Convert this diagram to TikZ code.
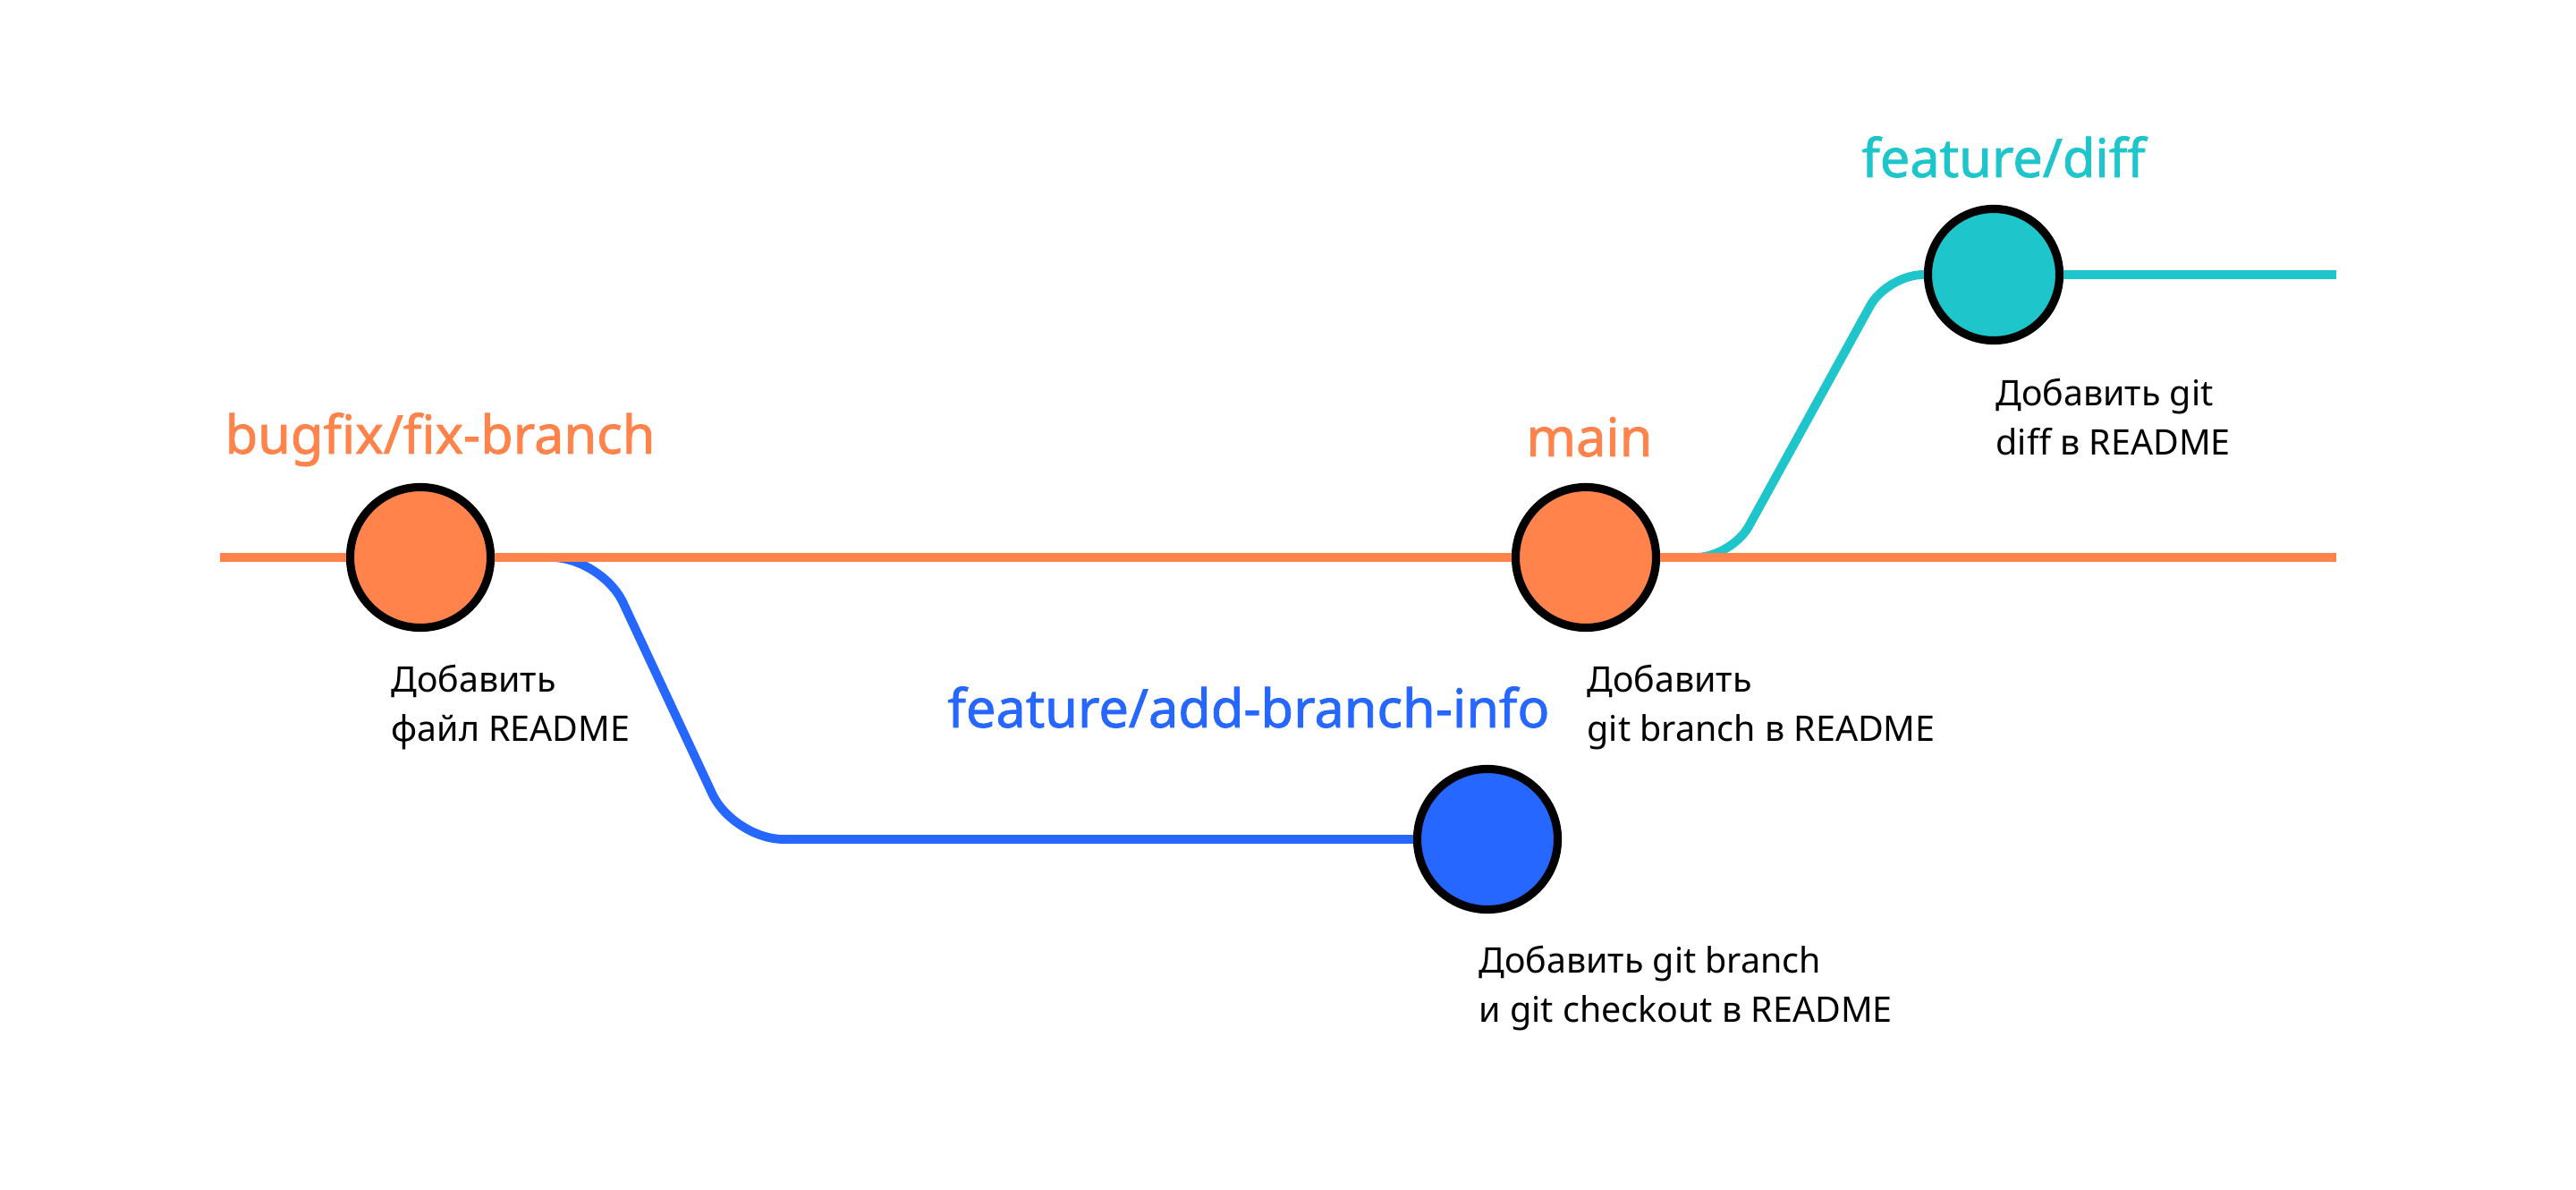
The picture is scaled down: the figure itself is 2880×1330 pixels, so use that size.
\documentclass[tikz,border=0pt]{standalone}
\usepackage{fontspec}
\setmainfont{Noto Sans}
\newfontfamily\branchfont{Noto Sans}[FakeBold=1.4]
\usetikzlibrary{positioning}
\definecolor{gitorange}{HTML}{FF834B}
\definecolor{gitblue}{HTML}{2667FF}
\definecolor{gitteal}{HTML}{1EC5CB}
\tikzset{
  commit/.style={
    circle,
    draw=black,
    line width=2.6pt,
    minimum size=1.57cm,
    inner sep=0pt
  },
  branchline/.style={
    line width=2.8pt
  },
  branchlabel/.style={
    font=\branchfont\fontsize{16.9}{20}\selectfont,
    inner sep=0pt
  },
  commitmsg/.style={
    font=\fontsize{11.2}{15.6}\selectfont,
    align=left,
    inner sep=0pt
  }
}

\begin{document}
\begin{tikzpicture}[x=0.01cm, y=-0.01cm]
  \useasboundingbox (0,0) rectangle (2880,1330);

  % commits
  \node[commit, fill=gitorange] (fix) at (470,623) {};
  \node[commit, fill=gitorange] (main) at (1773,623) {};
  \node[commit, fill=gitblue] (info) at (1663,938) {};
  \node[commit, fill=gitteal, minimum size=1.47cm] (diff) at (2229,307) {};

  % branch names
  \node[branchlabel, text=gitorange, anchor=base] (fixname) at ([xshift=0.22cm, yshift=0.33cm]fix.north) {bugfix/fix-branch};
  \node[branchlabel, text=gitorange, anchor=base] (mainname) at ([xshift=0.04cm, yshift=0.30cm]main.north) {main};
  \node[branchlabel, text=gitblue, anchor=base east] (infoname) at ([xshift=0.70cm, yshift=0.42cm]info.north) {feature/add-branch-info};
  \node[branchlabel, text=gitteal, anchor=base] (diffname) at ([xshift=0.11cm, yshift=0.31cm]diff.north) {feature/diff};

  % commit messages
  \node[commitmsg, anchor=base west] (fixmsg) at ([xshift=-0.33cm, yshift=-1.22cm]fix.south) {Добавить\\файл README};
  \node[commitmsg, anchor=base west] (mainmsg) at ([xshift=0.01cm, yshift=-1.22cm]main.south) {Добавить\\git branch в README};
  \node[commitmsg, anchor=base west] (infomsg) at ([xshift=-0.10cm, yshift=-1.21cm]info.south) {Добавить git branch\\и git checkout в README};
  \node[commitmsg, anchor=base west] (diffmsg) at ([xshift=0.02cm, yshift=-1.23cm]diff.south) {Добавить git\\diff в README};

  % branches
  \coordinate (mainstart) at (246,623);
  \coordinate (mainend) at (2612,623);
  \coordinate (diffend) at (2612,307);
  \draw[branchline, gitblue, rounded corners=0.56cm] (fix.east) -- (673,623) -- (820,938) -- (info.west);
  \draw[branchline, gitteal, rounded corners=0.4cm] (main.east) -- (1936,623) -- (2110,307) -- (diff.west);
  \draw[branchline, gitteal] (diff.east) -- (diffend);
  \draw[branchline, gitorange] (mainstart) -- (fix.west) (fix.east) -- (main.west) (main.east) -- (mainend);
\end{tikzpicture}
\end{document}
